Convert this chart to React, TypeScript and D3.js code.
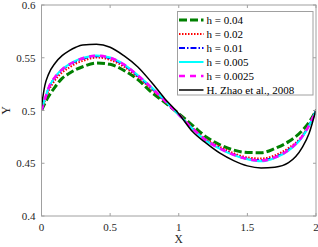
import React from "react";
import * as d3 from "d3";

const xs = [0, 0.025, 0.05, 0.1, 0.15, 0.2, 0.25, 0.3, 0.4, 0.5, 0.6, 0.7, 0.8, 0.9, 1.0, 1.1, 1.2, 1.3, 1.4, 1.5, 1.6, 1.7, 1.8, 1.9, 1.95, 2.0];

const h004 = [0.500, 0.507, 0.513, 0.5225, 0.5305, 0.535, 0.5388, 0.5415, 0.545, 0.5438, 0.538, 0.5295, 0.5175, 0.5075, 0.497, 0.486, 0.475, 0.4675, 0.4625, 0.4602, 0.46, 0.464, 0.4705, 0.481, 0.489, 0.500];
const h002 = [0.500, 0.5095, 0.518, 0.529, 0.536, 0.5405, 0.5445, 0.547, 0.5502, 0.548, 0.5415, 0.532, 0.5205, 0.5085, 0.4965, 0.4835, 0.4725, 0.4655, 0.4595, 0.4555, 0.4545, 0.4575, 0.4645, 0.476, 0.4865, 0.500];
const h001 = [0.500, 0.5105, 0.5205, 0.5315, 0.5385, 0.543, 0.5465, 0.549, 0.5515, 0.5495, 0.543, 0.533, 0.5215, 0.509, 0.496, 0.483, 0.4718, 0.4643, 0.4582, 0.4542, 0.4528, 0.4558, 0.4628, 0.4752, 0.486, 0.500];
const h0005 = [0.500, 0.511, 0.521, 0.532, 0.539, 0.5437, 0.5472, 0.5497, 0.5522, 0.5502, 0.5438, 0.5337, 0.5222, 0.5092, 0.496, 0.4828, 0.4712, 0.4637, 0.4577, 0.4537, 0.4518, 0.455, 0.462, 0.4748, 0.4858, 0.500];
const h00025 = [0.500, 0.511, 0.521, 0.532, 0.539, 0.5435, 0.547, 0.5495, 0.552, 0.55, 0.5437, 0.5335, 0.522, 0.509, 0.496, 0.483, 0.4715, 0.464, 0.458, 0.454, 0.4525, 0.4555, 0.4625, 0.4755, 0.486, 0.500];
const zhao = [0.504, 0.524, 0.534, 0.545, 0.552, 0.5565, 0.56, 0.5622, 0.5627, 0.56, 0.552, 0.5415, 0.527, 0.511, 0.497, 0.480, 0.469, 0.4595, 0.4525, 0.4475, 0.4455, 0.4462, 0.4505, 0.465, 0.4785, 0.501];

const xTicks = [0, 0.5, 1, 1.5, 2];
const yTicks = [0.4, 0.45, 0.5, 0.55, 0.6];
const seriesNames = ["h = 0.04", "h = 0.02", "h = 0.01", "h = 0.005", "h = 0.0025", "H. Zhao et al., 2008"];

const W = 318;
const H = 247;
const font = "'Liberation Serif', 'Times New Roman', serif";

// line styles per series, same order as the names
const styles = [
  { color: "#008000", width: 3, dash: "8,3" },
  { color: "#ff0000", width: 2, dash: "1.5,1.5" },
  { color: "#0000ff", width: 2, dash: "6,2,1.5,2" },
  { color: "#00ffff", width: 2, dash: "" },
  { color: "#ff00ff", width: 2.5, dash: "6,5" },
  { color: "#000000", width: 1.5, dash: "" },
];

export default function App() {
  const x = d3.scaleLinear().domain([0, 2]).range([41.5, 316]);
  const y = d3.scaleLinear().domain([0.4, 0.6]).range([216, 5]);
  const series = [h004, h002, h001, h0005, h00025, zhao];

  const line = d3
    .line<number>()
    .x((_, i) => x(xs[i]))
    .y((d) => y(d))
    .curve(d3.curveMonotoneX);

  const axisColor = "#a0a0a0";
  const [x0, x1] = x.range();
  const [y0, y1] = y.range();

  const legendX = 177.5;
  const legendY = 11.5;
  const rowH = 14;

  return (
    <svg width={W} height={H} style={{ position: "absolute", left: 0, top: 0, background: "#fff" }}>
      <defs>
        <clipPath id="plot">
          <rect x={x0} y={y1} width={x1 - x0} height={y0 - y1} />
        </clipPath>
      </defs>

      <g clipPath="url(#plot)">
        {series.map((s, i) => (
          <path
            key={i}
            d={line(s) || ""}
            fill="none"
            stroke={styles[i].color}
            strokeWidth={styles[i].width}
            strokeDasharray={styles[i].dash}
          />
        ))}
      </g>

      {/* box */}
      <rect x={x0} y={y1} width={x1 - x0} height={y0 - y1} fill="none" stroke={axisColor} strokeWidth={1} />

      {/* ticks */}
      {xTicks.map((t) => (
        <g key={"x" + t}>
          <line x1={x(t)} x2={x(t)} y1={y0} y2={y0 - 3} stroke={axisColor} />
          <line x1={x(t)} x2={x(t)} y1={y1} y2={y1 + 3} stroke={axisColor} />
          <text x={x(t)} y={y0 + 15} textAnchor="middle" fontFamily={font} fontSize={11} fill="#262626">
            {t}
          </text>
        </g>
      ))}
      {yTicks.map((t) => (
        <g key={"y" + t}>
          <line x1={x0} x2={x0 + 3} y1={y(t)} y2={y(t)} stroke={axisColor} />
          <line x1={x1} x2={x1 - 3} y1={y(t)} y2={y(t)} stroke={axisColor} />
          <text x={x0 - 6} y={y(t) + 4} textAnchor="end" fontFamily={font} fontSize={11} fill="#262626">
            {t}
          </text>
        </g>
      ))}

      <text x={(x0 + x1) / 2} y={243} textAnchor="middle" fontFamily={font} fontSize={11.5} fill="#262626">
        X
      </text>
      <text
        transform={`translate(10, ${(y0 + y1) / 2}) rotate(-90)`}
        textAnchor="middle"
        fontFamily={font}
        fontSize={12}
        fill="#262626"
      >
        Y
      </text>

      {/* legend */}
      <rect x={legendX} y={legendY} width={135.5} height={83.5} fill="#fff" stroke={axisColor} strokeWidth={1} />
      {seriesNames.map((name, i) => {
        const cy = legendY + 8.5 + i * rowH;
        return (
          <g key={name}>
            <line
              x1={legendX + 1.5}
              x2={legendX + 26}
              y1={cy}
              y2={cy}
              stroke={styles[i].color}
              strokeWidth={styles[i].width}
              strokeDasharray={styles[i].dash}
            />
            <text x={legendX + 29} y={cy + 4} fontFamily={font} fontSize={11} fill="#000">
              {name}
            </text>
          </g>
        );
      })}
    </svg>
  );
}
